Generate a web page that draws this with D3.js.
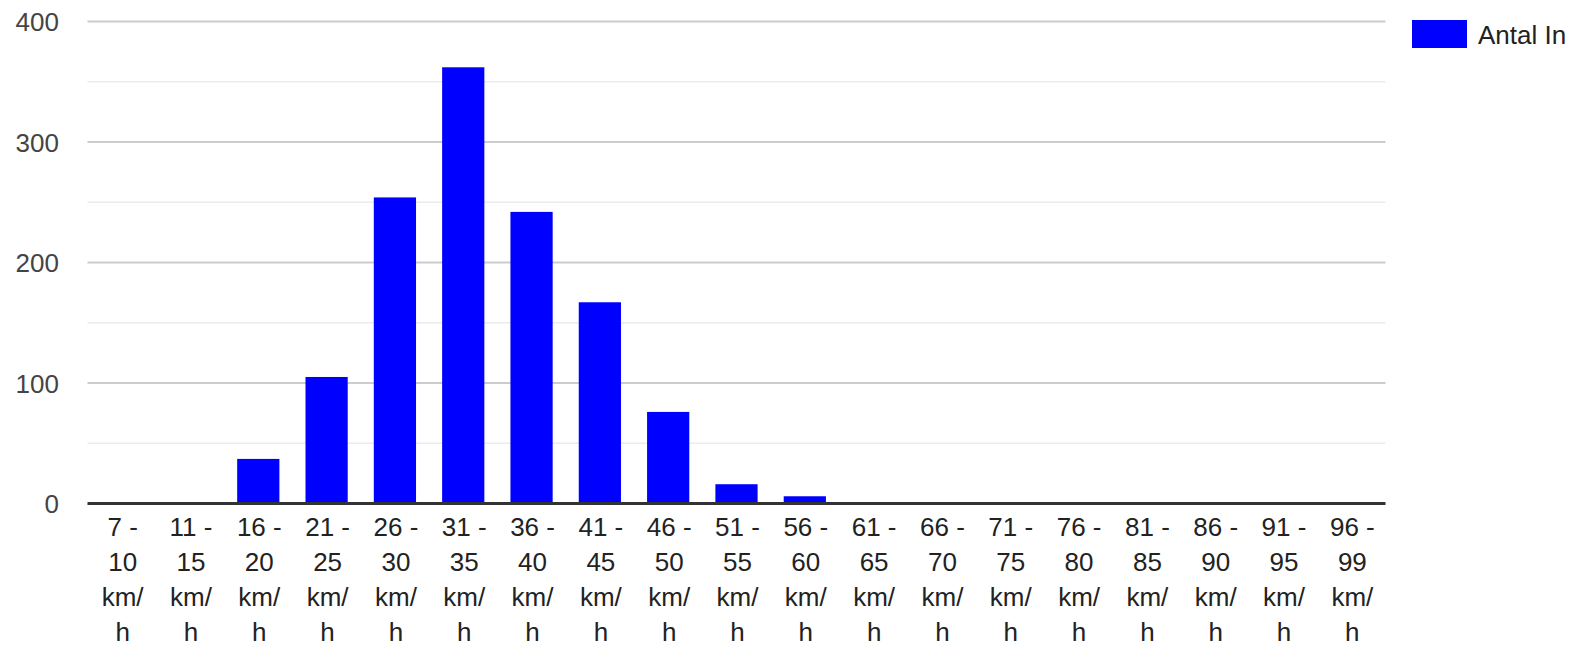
<!DOCTYPE html>
<html>
<head>
<meta charset="utf-8">
<script src="https://cdn.jsdelivr.net/npm/d3@7"></script>
<style>
  html, body { margin: 0; padding: 0; background: #fff; }
  svg { display: block; font-family: "Liberation Sans", Arial, sans-serif; }
</style>
</head>
<body>
<div id="chart"></div>
<script>
const categories = ["7 - 10 km/h", "11 - 15 km/h", "16 - 20 km/h", "21 - 25 km/h", "26 - 30 km/h",
  "31 - 35 km/h", "36 - 40 km/h", "41 - 45 km/h", "46 - 50 km/h", "51 - 55 km/h", "56 - 60 km/h",
  "61 - 65 km/h", "66 - 70 km/h", "71 - 75 km/h", "76 - 80 km/h", "81 - 85 km/h", "86 - 90 km/h",
  "91 - 95 km/h", "96 - 99 km/h"];
const antalIn = [0, 0, 37, 105, 254, 362, 242, 167, 76, 16, 6, 0, 0, 0, 0, 0, 0, 0, 0];
const majorTicks = [0, 100, 200, 300, 400];
const minorTicks = [50, 150, 250, 350];
const seriesName = "Antal In";

const width = 1581, height = 646;
const plot = { left: 87.5, right: 1385.5, top: 21.5, bottom: 503.5 };

const svg = d3.select("#chart").append("svg").attr("width", width).attr("height", height);

const x = d3.scaleBand().domain(categories).range([plot.left, plot.right]).paddingInner(0.382).paddingOuter(0.191);
const y = d3.scaleLinear().domain([0, 400]).range([plot.bottom, plot.top]);

// gridlines
svg.append("g").selectAll("line").data(minorTicks).enter().append("line")
  .attr("x1", plot.left).attr("x2", plot.right).attr("y1", d => y(d)).attr("y2", d => y(d))
  .attr("stroke", "#ebebeb").attr("stroke-width", 1.5);
svg.append("g").selectAll("line").data(majorTicks.filter(d => d > 0)).enter().append("line")
  .attr("x1", plot.left).attr("x2", plot.right).attr("y1", d => y(d)).attr("y2", d => y(d))
  .attr("stroke", "#cccccc").attr("stroke-width", 2);

// bars
svg.append("g").selectAll("rect").data(antalIn).enter().append("rect")
  .attr("x", (d, i) => x(categories[i])).attr("width", x.bandwidth())
  .attr("y", d => y(d)).attr("height", d => y(0) - y(d))
  .attr("fill", "#0000ff");

// baseline
svg.append("line").attr("x1", plot.left).attr("x2", plot.right).attr("y1", y(0)).attr("y2", y(0))
  .attr("stroke", "#333333").attr("stroke-width", 3);

// y labels
svg.append("g").selectAll("text").data(majorTicks).enter().append("text")
  .attr("x", 59).attr("y", d => y(d) + 9.5).attr("text-anchor", "end")
  .attr("font-size", 26).attr("fill", "#444444").text(d => d);

// x labels, wrapped like the original
const wrap = s => {
  const m = s.match(/^(\d+ -) (\d+) (km\/)(h)$/);
  return m ? m.slice(1) : [s];
};
const xl = svg.append("g").selectAll("text").data(categories).enter().append("text")
  .attr("text-anchor", "middle").attr("font-size", 26).attr("fill", "#222222")
  .attr("x", d => x(d) + x.bandwidth() / 2 + 1);
xl.selectAll("tspan").data(d => wrap(d)).enter().append("tspan")
  .attr("x", function() { return d3.select(this.parentNode).attr("x"); })
  .attr("y", (d, i) => 536 + i * 35).text(d => d);

// legend
const lg = svg.append("g");
lg.append("rect").attr("x", 1412).attr("y", 20).attr("width", 55).attr("height", 28).attr("fill", "#0000ff");
lg.append("text").attr("x", 1478).attr("y", 44).attr("font-size", 26).attr("fill", "#222222").text(seriesName);
</script>
</body>
</html>
